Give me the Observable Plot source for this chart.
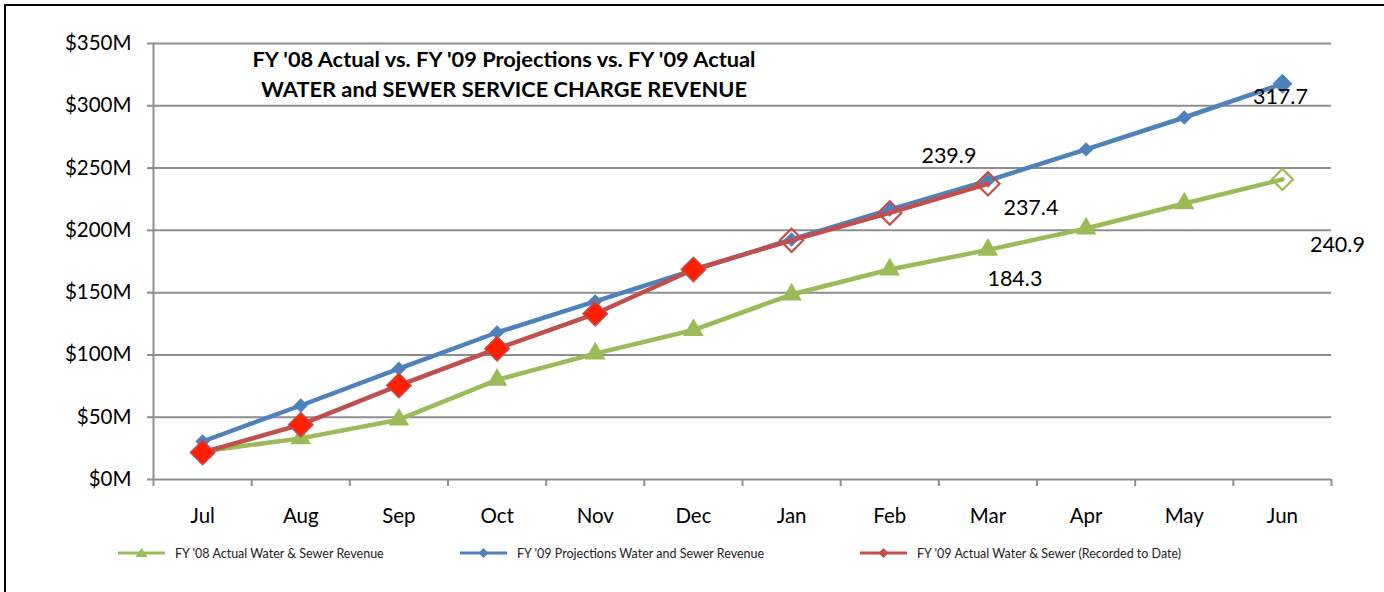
<!DOCTYPE html>
<html><head><meta charset="utf-8">
<script src="https://cdn.jsdelivr.net/npm/d3@7"></script>
<script src="https://cdn.jsdelivr.net/npm/@observablehq/plot@0.6"></script>
<style>
html,body{margin:0;padding:0;background:#fff;overflow:hidden;width:1384px;height:592px;font-family:Lato,"Open Sans",sans-serif;}
#frame{position:absolute;left:4px;top:4px;width:1420px;height:720px;border:2px solid #000;box-sizing:border-box;}
#chart{position:absolute;left:0;top:0;}
#title{position:absolute;left:204px;width:600px;top:44px;text-align:center;font-weight:bold;font-size:21.8px;line-height:30px;color:#000;}
#legend{position:absolute;left:0;top:0;width:1384px;height:592px;pointer-events:none;}
.lg{position:absolute;top:545px;height:16px;display:flex;align-items:center;font-size:12.5px;color:#222;white-space:nowrap;}
.lg svg{margin-right:10px;}
</style></head>
<body>
<div id="frame"></div>
<div id="chart"></div>
<div id="title">FY '08 Actual vs. FY '09 Projections vs. FY '09 Actual<br>WATER and SEWER SERVICE CHARGE REVENUE</div>
<div id="legend"></div>
<script>
const months = ["Jul","Aug","Sep","Oct","Nov","Dec","Jan","Feb","Mar","Apr","May","Jun"];
const fy08Actual = [22.5, 33, 48, 80, 101, 120, 148.5, 168.6, 184.3, 201.5, 221.6, 240.9];
const fy09Projection = [30.5, 59.4, 89, 118, 143, 168, 192.7, 216.7, 239.9, 265, 290.6, 317.7];
const fy09Actual = [21.7, 44, 75.5, 105, 133, 168.6, 192, 214, 237.4];
const yTicks = [0, 50, 100, 150, 200, 250, 300, 350];
const seriesNames = [
  "FY '08 Actual Water & Sewer Revenue",
  "FY '09 Projections Water and Sewer Revenue",
  "FY '09 Actual Water & Sewer (Recorded to Date)"
];

const GREEN = "#9bbb59", BLUE = "#4f81bd", RED = "#c0504d", RED_FILL = "#ff2000", GRID = "#8e8e8e";
const FONT = "Lato, 'Open Sans', sans-serif";
const idx = (d, i) => i;
const val = d => d;
const lastG = fy08Actual.length - 1;
const lastB = fy09Projection.length - 1;
const recordedSolid = 6; // first six months shown as solid markers

const chart = Plot.plot({
  width: 1384,
  height: 592,
  marginLeft: 153,
  marginRight: 53,
  marginTop: 43,
  marginBottom: 113,
  style: {fontFamily: FONT, background: "transparent", color: "#000"},
  x: {type: "linear", domain: [-0.5, months.length - 0.5]},
  y: {domain: [0, 350]},
  marks: [
    Plot.gridY(yTicks, {stroke: GRID, strokeOpacity: 1, strokeWidth: 2}),
    Plot.ruleX([-0.5], {stroke: GRID, strokeWidth: 2}),
    Plot.axisY(yTicks, {tickFormat: d => `$${d}M`, tickSize: 6, tickPadding: 16, fontSize: 20.5, stroke: GRID, strokeWidth: 2, fill: "#000"}),
    Plot.axisX(d3.range(months.length + 1).map(i => i - 0.5), {tickFormat: () => "", tickSize: 7, stroke: GRID, strokeWidth: 2}),
    Plot.axisX(d3.range(months.length), {tickFormat: i => months[i], tickSize: 0, tickPadding: 29, fontSize: 20.5, fill: "#000"}),
    // FY08 actual
    Plot.lineY(fy08Actual, {x: idx, y: val, stroke: GREEN, strokeWidth: 4.5}),
    Plot.dot(fy08Actual, {x: idx, y: val, filter: (d, i) => i < lastG, symbol: "triangle", r: 7.6, fill: GREEN}),
    Plot.dot(fy08Actual, {x: idx, y: val, filter: (d, i) => i === lastG, symbol: "diamond2", r: 9.5, fill: "none", stroke: GREEN, strokeWidth: 2.2}),
    // FY09 projections
    Plot.lineY(fy09Projection, {x: idx, y: val, stroke: BLUE, strokeWidth: 4.5}),
    Plot.dot(fy09Projection, {x: idx, y: val, filter: (d, i) => i < lastB, symbol: "diamond2", r: 6.5, fill: BLUE}),
    Plot.dot(fy09Projection, {x: idx, y: val, filter: (d, i) => i === lastB, symbol: "diamond2", r: 9, fill: BLUE}),
    // FY09 actual
    Plot.lineY(fy09Actual, {x: idx, y: val, stroke: RED, strokeWidth: 4.5}),
    Plot.dot(fy09Actual, {x: idx, y: val, filter: (d, i) => i < recordedSolid, symbol: "diamond2", r: 11, fill: RED_FILL, stroke: RED, strokeWidth: 1.5}),
    Plot.dot(fy09Actual, {x: idx, y: val, filter: (d, i) => i >= recordedSolid, symbol: "diamond2", r: 10.5, fill: "none", stroke: RED, strokeWidth: 2.2}),
    // value labels
    Plot.text([8], {x: d => d, y: d => fy09Projection[d], text: d => fy09Projection[d].toFixed(1), dx: -39, dy: -25, fontSize: 21.5, fill: "#000"}),
    Plot.text([8], {x: d => d, y: d => fy09Actual[d], text: d => fy09Actual[d].toFixed(1), dx: 43, dy: 24, fontSize: 21.5, fill: "#000"}),
    Plot.text([8], {x: d => d, y: d => fy08Actual[d], text: d => fy08Actual[d].toFixed(1), dx: 27, dy: 29, fontSize: 21.5, fill: "#000"}),
    Plot.text([lastB], {x: d => d, y: d => fy09Projection[d], text: d => fy09Projection[d].toFixed(1), dx: -2, dy: 13, fontSize: 21.5, fill: "#000"}),
    Plot.text([lastG], {x: d => d, y: d => fy08Actual[d], text: d => fy08Actual[d].toFixed(1), dx: 55, dy: 66, fontSize: 21.5, fill: "#000"})
  ]
});
document.getElementById("chart").appendChild(chart);

// legend
const legend = document.getElementById("legend");
const lgItems = [
  {name: seriesNames[0], color: GREEN, left: 118, sym: "tri"},
  {name: seriesNames[1], color: BLUE, left: 460, sym: "dia"},
  {name: seriesNames[2], color: RED, left: 860, sym: "dia"}
];
lgItems.forEach(it => {
  const div = document.createElement("div");
  div.className = "lg";
  div.style.left = it.left + "px";
  const marker = it.sym === "tri"
    ? `<path d="M23.5,3 L29.5,12 L17.5,12 Z" fill="${it.color}"/>`
    : `<path d="M23.5,3 L28.5,8 L23.5,13 L18.5,8 Z" fill="${it.color}"/>`;
  div.innerHTML = `<svg width="47" height="16"><line x1="0" x2="47" y1="8" y2="8" stroke="${it.color}" stroke-width="3"/>${marker}</svg><span>${it.name}</span>`;
  legend.appendChild(div);
});
</script>
</body></html>
